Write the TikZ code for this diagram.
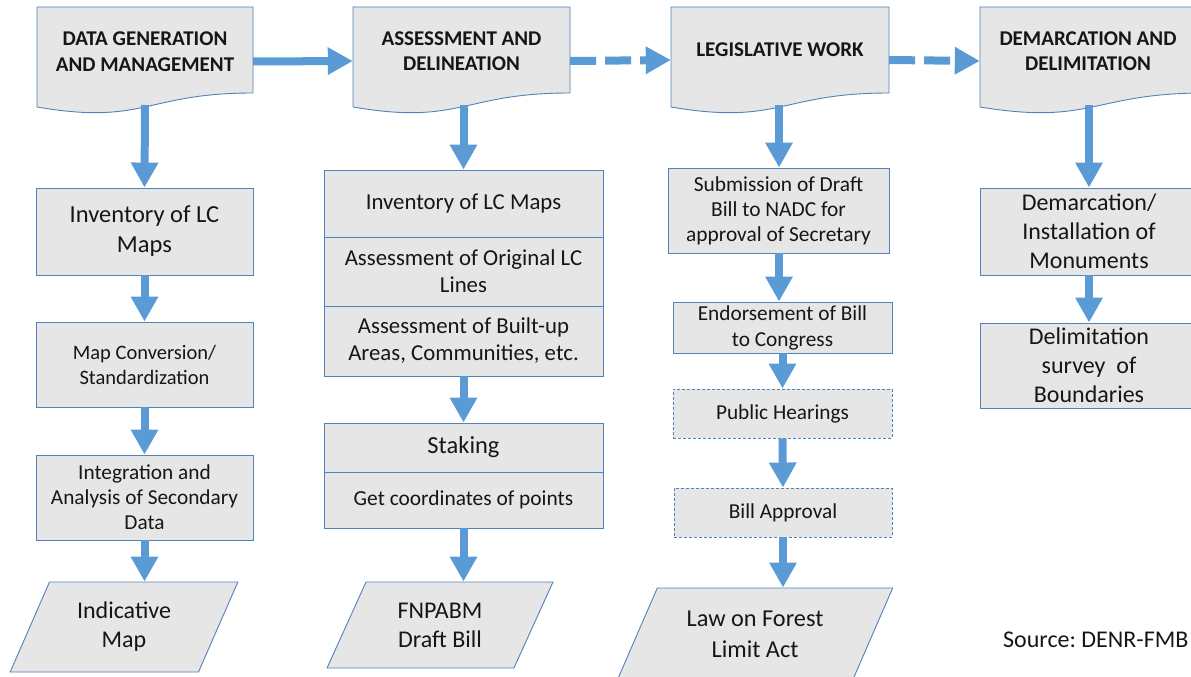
\documentclass[tikz,border=0pt]{standalone}
\usepackage{fontspec}
\setmainfont{Carlito}
\usetikzlibrary{arrows.meta,shapes.geometric}
\definecolor{flowblue}{HTML}{5B9BD5}
\definecolor{boxedge}{HTML}{5082BC}
\definecolor{boxfill}{HTML}{E6E6E6}
\definecolor{ink}{HTML}{161616}
\newcommand\fsz[2]{\fontsize{#1pt}{#2pt}\selectfont}
% document-shaped header outline (top edge fixed at y=7)
\newcommand\docshape[2]{%
  \draw[box] (#1,7) -- (#2,7) -- (#2,93)
    .. controls ({(#1+#2)/2},93) and ({(#1+#2)/2},125.5) .. (#1,107) -- cycle;}
\tikzset{
  box/.style={draw=boxedge, line width=0.9pt, fill=boxfill, inner sep=0pt,
              align=center, text=ink},
  dbox/.style={box, dash pattern=on 3pt off 2pt},
  hd/.style={inner sep=0pt, align=center, text=ink, font=\bfseries\fsz{21}{25.5}},
  flow/.style={draw=flowblue, line width=8pt, -{Triangle[length=25pt,width=26pt]}},
  dflow/.style={flow, dash pattern=on 26pt off 9pt},
  para/.style={box, trapezium, trapezium stretches=true},
}
\frenchspacing
\begin{document}
\begin{tikzpicture}[x=1pt,y=-1pt]
\useasboundingbox (0,0) rectangle (1191,677);
\clip (0,0) rectangle (1191,677);

% phase headers
\docshape{37}{253}
\docshape{353}{570}
\docshape{671}{889}
\docshape{980}{1205}
\node[hd, minimum width=216pt, minimum height=86pt] (h1) at (145,51.5) {DATA GENERATION\\AND MANAGEMENT};
\node[hd, minimum width=217pt, minimum height=86pt] (h2) at (461.5,51) {ASSESSMENT AND\\DELINEATION};
\node[hd, minimum width=218pt, minimum height=86pt] (h3) at (780,50) {LEGISLATIVE WORK};
\node[hd, minimum width=216pt, minimum height=86pt] (h4) at (1088,51) {DEMARCATION AND\\DELIMITATION};
\coordinate (h1b) at (145,105);
\coordinate (h2b) at (463.5,105);
\coordinate (h3b) at (779,105);
\coordinate (h4b) at (1089,105);

% column 1
\node[box, minimum width=217pt, minimum height=87pt, font=\fsz{24.5}{30}] (c1a) at (144.5,231.5) {Inventory of LC\\Maps};
\node[box, minimum width=217pt, minimum height=85pt, font=\fsz{20.5}{25}] (c1b) at (144.5,364.5) {Map Conversion/\\Standardization};
\node[box, minimum width=217pt, minimum height=85pt, font=\fsz{21.3}{25}] (c1c) at (144.5,497.5) {Integration and\\Analysis of Secondary\\Data};
\node[para, trapezium left angle=63.4, trapezium right angle=116.6,
      minimum width=228pt, minimum height=90pt, font=\fsz{24}{29}] (c1d) at (124,627) {Indicative\\Map};

% column 2
\node[box, minimum width=279pt, minimum height=67pt, font=\fsz{22.8}{27}] (c2a) at (463.5,203.5) {Inventory of LC Maps};
\node[box, minimum width=279pt, minimum height=69pt, font=\fsz{22.8}{27}] (c2b) at (463.5,271.5) {Assessment of Original LC\\Lines};
\node[box, minimum width=279pt, minimum height=70pt, font=\fsz{22.8}{27}] (c2c) at (463.5,341) {Assessment of Built-up\\Areas, Communities, etc.};
\node[box, minimum width=279pt, minimum height=49pt, font=\fsz{24.5}{29}] (c2d) at (463.5,447.5) {Staking};
\node[box, minimum width=279pt, minimum height=56pt, font=\fsz{21.4}{25}] (c2e) at (463.5,500) {Get coordinates of points};
\node[para, trapezium left angle=63.4, trapezium right angle=116.6,
      minimum width=226pt, minimum height=86pt, font=\fsz{24}{29}] (c2f) at (440,625) {FNPABM\\Draft Bill};

% column 3
\node[box, minimum width=221pt, minimum height=85pt, font=\fsz{21.4}{25}] (c3a) at (778.5,210.5) {Submission of Draft\\Bill to NADC for\\approval of Secretary};
\node[box, minimum width=219pt, minimum height=51pt, font=\fsz{21.3}{26}] (c3b) at (782.5,327.5) {Endorsement of Bill\\to Congress};
\node[dbox, minimum width=219pt, minimum height=49pt, font=\fsz{21.3}{25}] (c3c) at (782.5,413.5) {Public Hearings};
\node[dbox, minimum width=218pt, minimum height=49pt, font=\fsz{21.3}{25}] (c3d) at (783,512.5) {Bill Approval};
\node[para, trapezium left angle=59.1, trapezium right angle=120.9,
      minimum width=276pt, minimum height=92pt, font=\fsz{24.3}{31}] (c3e) at (755,634) {Law on Forest\\Limit Act};

% column 4
\node[box, minimum width=218pt, minimum height=87pt, font=\fsz{24}{29}] (c4a) at (1089,231.5) {Demarcation/\\Installation of\\Monuments};
\node[box, minimum width=218pt, minimum height=85pt, font=\fsz{24}{29}] (c4b) at (1089,365.5) {Delimitation\\survey\ \ of\\Boundaries};

\node[anchor=west, inner sep=0pt, text=ink, font=\fsz{24}{28}] (src) at (1003,640) {Source: DENR-FMB};

% flow between phases
\draw[flow]  ([yshift=-10pt]h1.east) -- ([yshift=-10pt]h2.west);
\draw[dflow] ([yshift=-10pt]h2.east) -- ([yshift=-10pt]h3.west);
\draw[dflow] ([yshift=-10pt]h3.east) -- ([yshift=-10pt]h4.west);

% flow within each phase
\draw[flow] (h1b) -- (c1a.north);
\draw[flow] (c1a.south) -- (c1b.north);
\draw[flow] (c1b.south) -- (c1c.north);
\draw[flow] (c1c.south) -- (c1c.south |- c1d.north);

\draw[flow] (h2b) -- (c2a.north);
\draw[flow] (c2c.south) -- (c2d.north);
\draw[flow] (c2e.south) -- (c2e.south |- c2f.north);

\draw[flow] (h3b) -- (h3b |- c3a.north);
\draw[flow] (h3b |- c3a.south) -- (h3b |- c3b.north);
\draw[flow] (c3b.south) -- (c3c.north);
\draw[flow] (c3c.south) -- (c3d.north);
\draw[flow] (c3d.south) -- (c3d.south |- c3e.north);

\draw[flow] (h4b) -- (c4a.north);
\draw[flow] (c4a.south) -- (c4b.north);
\end{tikzpicture}
\end{document}
